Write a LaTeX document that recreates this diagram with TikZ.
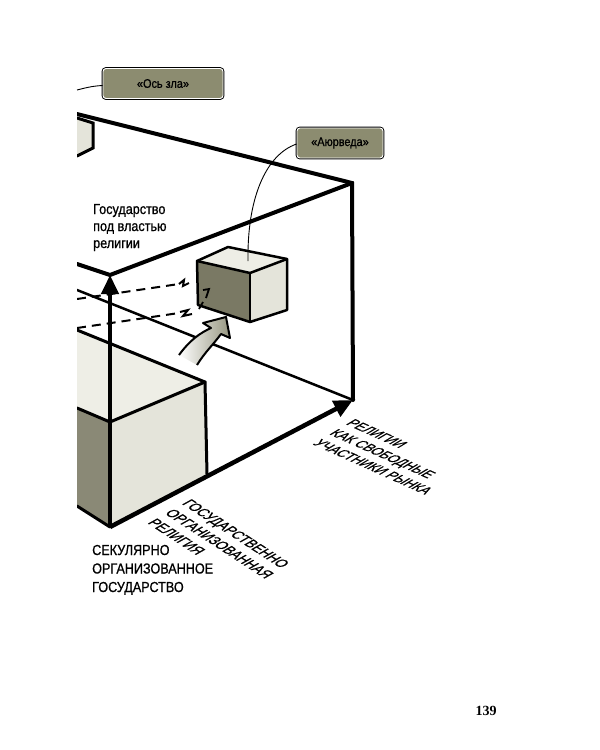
\documentclass[tikz,border=0pt]{standalone}
\usepackage{fontspec}
\newfontfamily\labelfont[FakeStretch=0.87,FakeBold=0.8]{Liberation Sans}
\newfontfamily\pagefont{Liberation Serif}
\usepackage{tkz-euclide}
\usetikzlibrary{arrows.meta,calc}
\definecolor{CalloutClr}{RGB}{140,140,112}
\definecolor{DarkFaceClr}{RGB}{122,121,100}
\definecolor{SideFaceClr}{RGB}{138,137,118}
\definecolor{LightFaceClr}{RGB}{228,228,218}
\definecolor{TopFaceClr}{RGB}{238,238,230}
\definecolor{ArrowClr}{RGB}{150,150,128}

\tikzset{
  lbl/.style={inner sep=0pt,align=left,font=\labelfont\fontsize{14.5}{18.5}\selectfont},
  callout/.style={draw=white,line width=0.9pt,fill=CalloutClr,rounded corners=3pt,
    preaction={draw=black,line width=2.8pt},inner sep=0pt,minimum height=30pt,
    font=\labelfont\fontsize{12.5}{14}\selectfont},
  link/.style={line width=0.9pt},
  hidden/.style={line width=2pt,dash pattern=on 9pt off 6pt},
  axis/.style={line width=4.5pt,-{Triangle[length=19pt,width=17pt]}}
}

\begin{document}
\begin{tikzpicture}[x=1pt,y=-1pt]
\tkzSetUpLine[line width=3pt,color=black]

\useasboundingbox (0,0) rectangle (600,750);

\tkzDefPoints{110/527/O,110/275/V,353/400/H,352/183/R,77/114/Q,77/264/L,77/290/M}
\tkzDefPoints{77/330/T1,205/382/T2,110/422/T3,77/408/T4,207/474/T5,77/506/T6}
\tkzDefPoints{197/261/C1,228/247/C2,287/259/C3,250/273/C4,198/305/C5,250/322/C6,287/310/C7}
\tkzDefPoints{77/118/S1,93/123/S2,93/148/S3,77/156/S4}
\coordinate (evilEnd) at (77,90);
\coordinate (ayurTop) at (248,261);

\begin{scope}
\clip (77,0) rectangle (600,750);

\tkzFillPolygon[fill=LightFaceClr](S1,S2,S3,S4)
\tkzDrawPolySeg[line width=3pt](S1,S2,S3,S4)

\tkzDrawSegment[line width=2.5pt](M,H)
\tkzDrawPolySeg[line width=4pt](Q,R,H)
\tkzDrawPolySeg[line width=4pt](L,V,R)

\draw[hidden] (77,299) -- (179,284);
\draw[line width=2pt] (179,284) -- (184,280) -- (183,286) -- (189,283);
\draw[hidden] (77,328) -- (179,313);
\draw[line width=2pt] (180,312) -- (188,310) -- (183,316) -- (192,314);

\tkzFillPolygon[fill=TopFaceClr](C1,C2,C3,C4)
\tkzFillPolygon[fill=DarkFaceClr](C1,C4,C6,C5)
\tkzFillPolygon[fill=LightFaceClr](C4,C3,C7,C6)
\tkzDrawPolygon[line width=2.5pt](C1,C2,C3,C7,C6,C5)
\tkzDrawPolySeg[line width=2.5pt](C1,C4,C3)
\tkzDrawSegment[line width=2.5pt](C4,C6)
\draw[line width=1.8pt] (203,290) -- (209,289) -- (206,298);
\draw[line width=1.8pt] (199,309) -- (203,302);

\shade[left color=white,right color=ArrowClr]
  (179,355) .. controls (190,340) and (200,333) .. (211,328) -- (203,323) -- (226,317)
  -- (230,338) -- (221,334) .. controls (213,345) and (205,352) .. (197,365) -- cycle;
\draw[line width=2pt,line join=round]
  (179,355) .. controls (190,340) and (200,333) .. (211,328) -- (203,323) -- (226,317)
  -- (230,338) -- (221,334) .. controls (213,345) and (205,352) .. (197,365);

\tkzFillPolygon[fill=TopFaceClr](T1,T2,T3,T4)
\tkzFillPolygon[fill=LightFaceClr](T3,T2,T5,O)
\tkzFillPolygon[fill=SideFaceClr](T4,T3,O,T6)
\tkzDrawPolySeg[line width=3pt](T1,T2,T5)
\tkzDrawPolySeg[line width=3pt](T4,T3,T2)
\tkzDrawSegment[line width=3pt](T6,O)

\draw[axis] (O) -- (V);
\draw[axis] (O) -- (H);
\end{scope}

\node[callout,minimum width=120pt] (evil) at (163,83.5) {«Ось зла»};
\node[callout,minimum width=86pt] (ayur) at (340,143) {«Аюрведа»};
\draw[link] ([yshift=-2pt]evil.west) .. controls (92,86) and (85,88) .. (evilEnd);
\draw[link] ([yshift=-1pt]ayur.west) .. controls (265,155) and (247,200) .. (ayurTop);

\node[lbl,anchor=base west,font=\labelfont\fontsize{14.5}{17}\selectfont] (ruled) at (93,248)
  {Государство\\под властью\\религии};
\node[lbl,anchor=base west] (secular) at (92,592)
  {СЕКУЛЯРНО\\ОРГАНИЗОВАННОЕ\\ГОСУДАРСТВО};

\begin{scope}[shift={(147,523)},cm={0.839,-0.545,0.93,0.52,(0,0)}]
\node[lbl,transform shape,anchor=base west] (statereligion) at (0,0)
  {ГОСУДАРСТВЕННО\\ОРГАНИЗОВАННАЯ\\РЕЛИГИЯ};
\end{scope}
\begin{scope}[shift={(312,444)},cm={0.912,-0.410,0.90,0.54,(0,0)}]
\node[lbl,transform shape,anchor=base west] (market) at (0,0)
  {РЕЛИГИИ\\КАК СВОБОДНЫЕ\\УЧАСТНИКИ РЫНКА};
\end{scope}

\node[font=\pagefont\bfseries\fontsize{14}{16}\selectfont,inner sep=0pt] (page) at (486,711) {139};

\end{tikzpicture}
\end{document}
